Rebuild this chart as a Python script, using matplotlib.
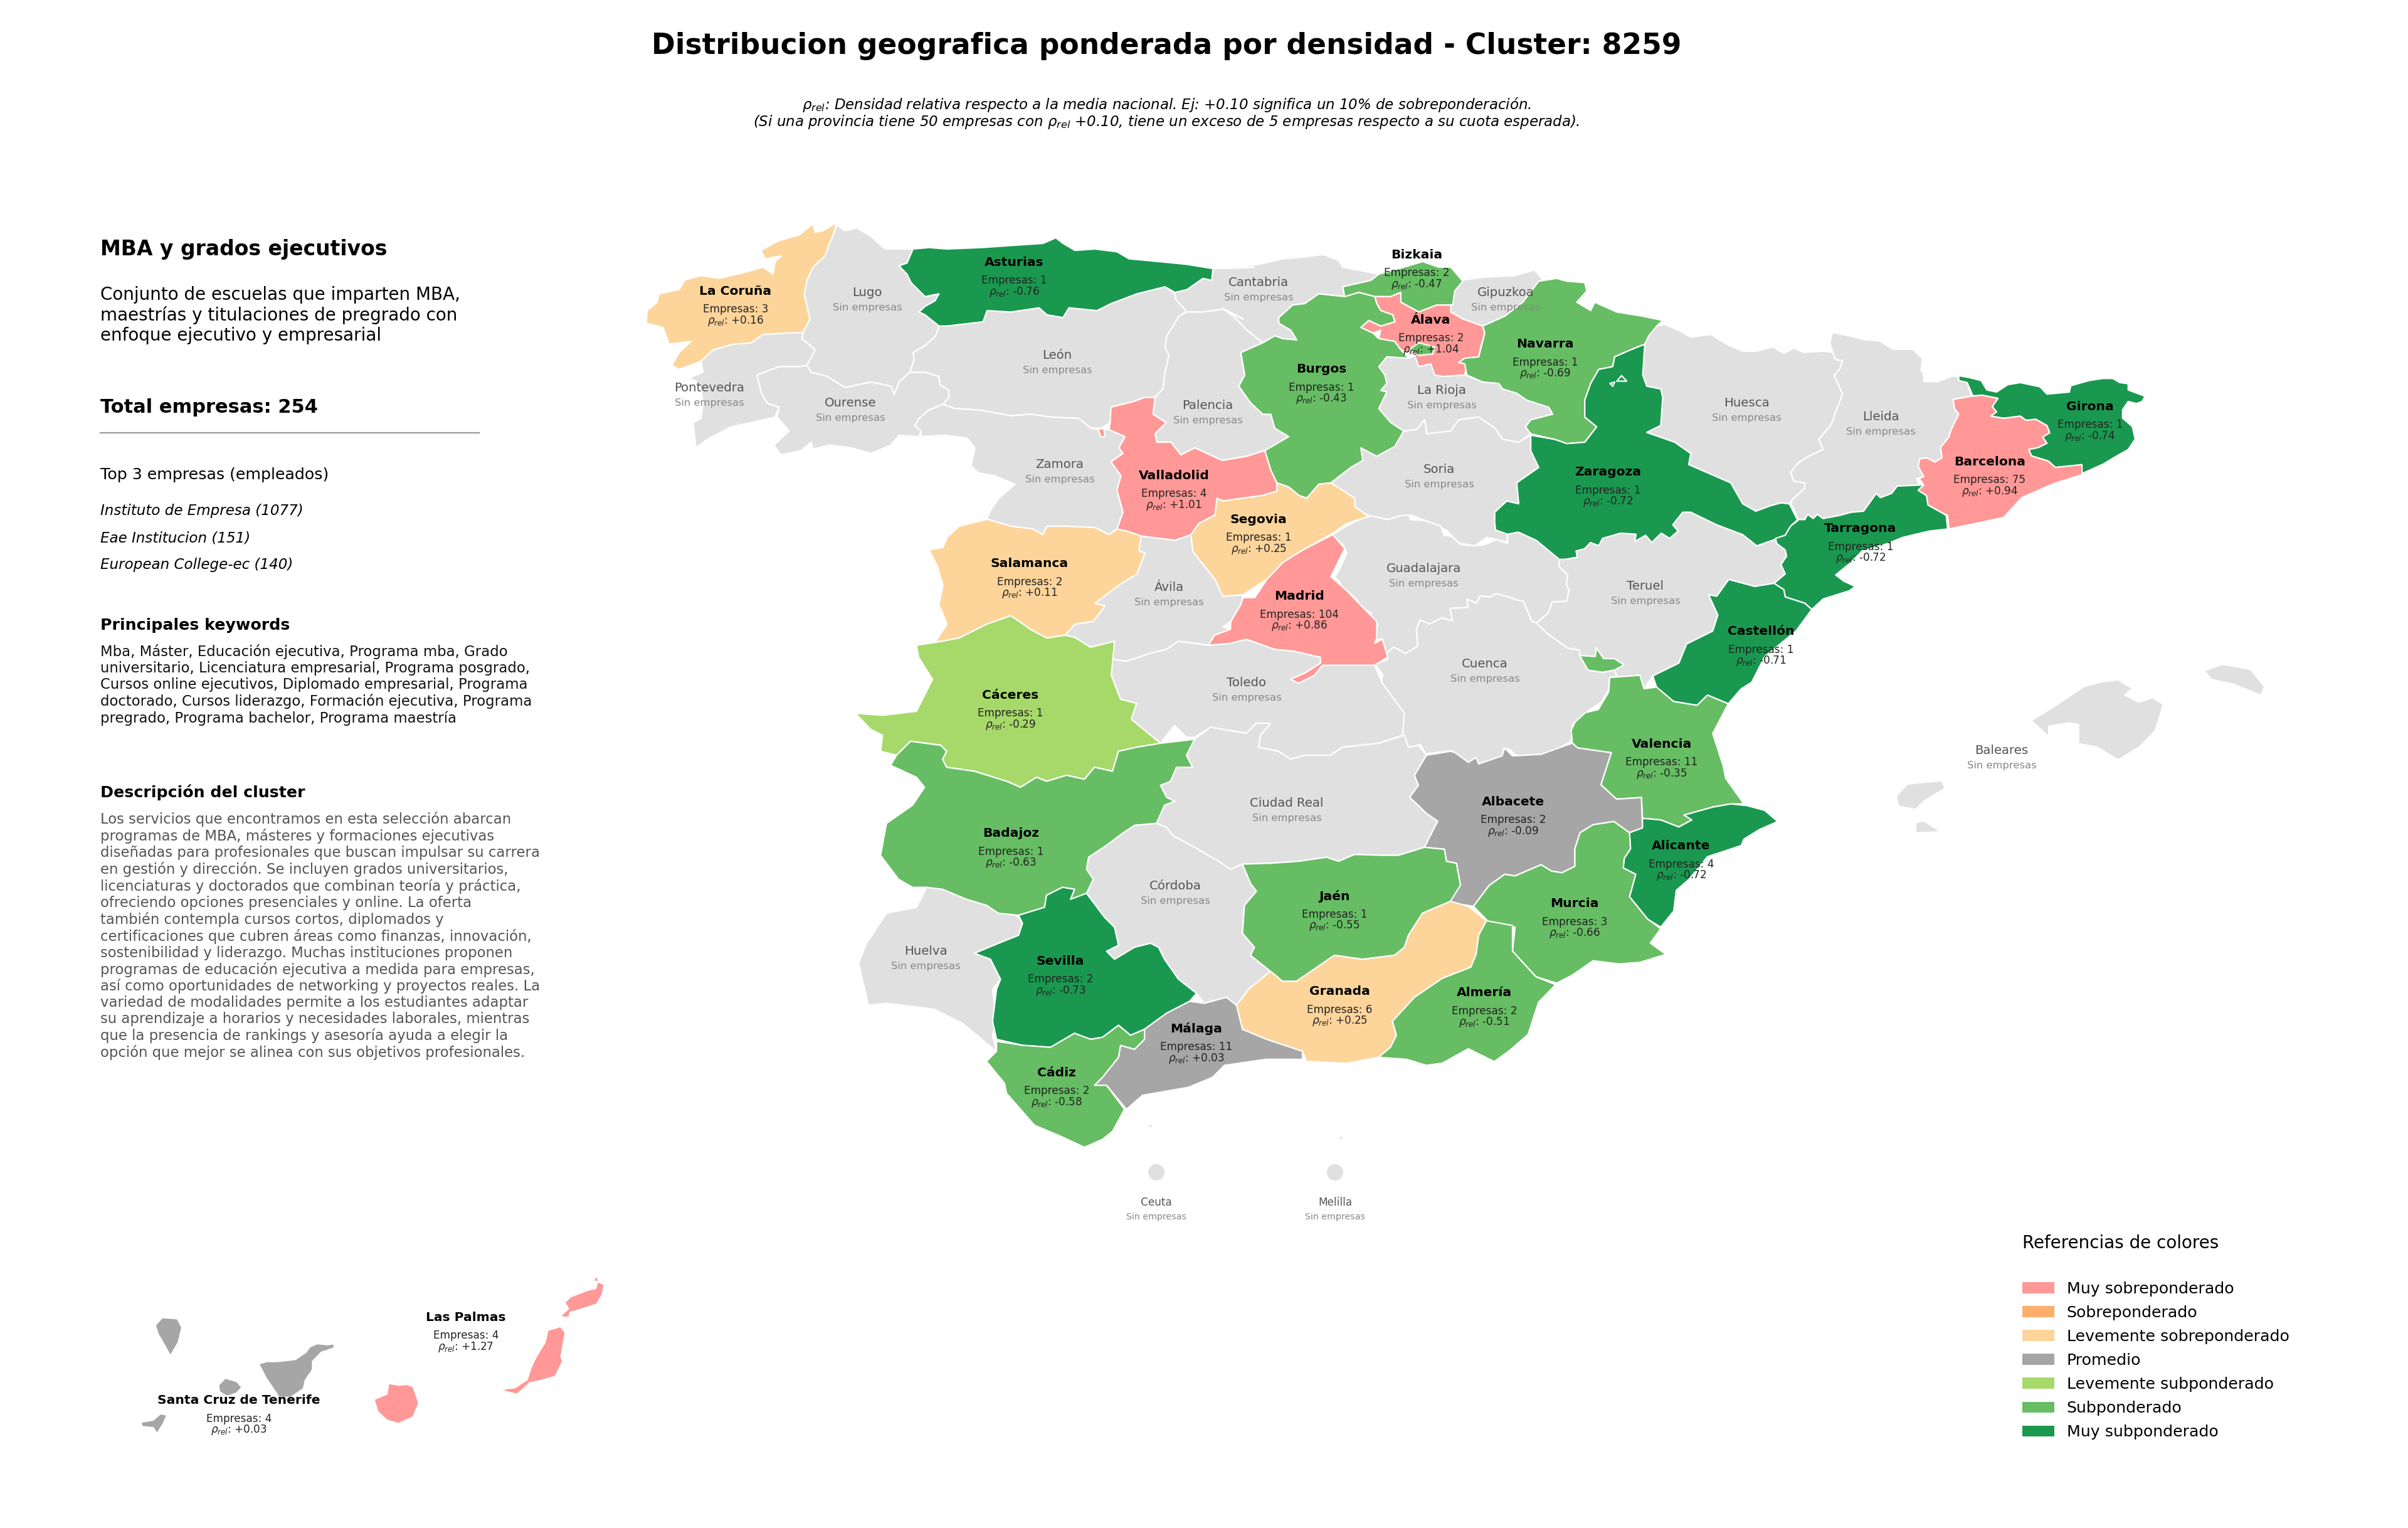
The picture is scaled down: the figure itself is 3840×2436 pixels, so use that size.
"""Distribucion geografica por provincia, cluster 8259 (outlines traced by hand from crops)."""
import matplotlib
matplotlib.use("Agg")
import matplotlib.pyplot as plt
from matplotlib.patches import Patch, Polygon, Circle


def crop(ox, oy, sx, sy):
    """Trace coordinates of one crop -> figure pixels."""
    return lambda pts: [(ox + x / sx, oy + y / sy) for x, y in pts]


A = crop(1000, 330, 1.568, 2.24)
B = crop(1950, 330, 1.568, 2.24)
C = crop(1350, 1000, 1.568, 1.568)
D = crop(2300, 950, 1.206, 1.96)
E = crop(150, 2000, 1.742, 3.0)
F = crop(2800, 500, 2.24, 3.0)
G = crop(2100, 820, 2.613, 3.0)

# --- values ---------------------------------------------------------------
PROVINCES = ["La Coruña", "Asturias", "Bizkaia", "Álava", "Navarra", "Burgos", "Valladolid", "Segovia",
             "Salamanca", "Madrid", "Zaragoza", "Tarragona", "Barcelona", "Girona", "Castellón", "Cáceres",
             "Badajoz", "Valencia", "Albacete", "Alicante", "Murcia", "Jaén", "Sevilla", "Granada",
             "Almería", "Málaga", "Cádiz", "Las Palmas", "Santa Cruz de Tenerife"]
EMPRESAS = [3, 1, 2, 2, 1, 1, 4, 1, 2, 104, 1, 1, 75, 1, 1, 1, 1, 11, 2, 4, 3, 1, 2, 6, 2, 11, 2, 4, 4]
RHO = [0.16, -0.76, -0.47, 1.04, -0.69, -0.43, 1.01, 0.25, 0.11, 0.86, -0.72, -0.72, 0.94, -0.74, -0.71,
       -0.29, -0.63, -0.35, -0.09, -0.72, -0.66, -0.55, -0.73, 0.25, -0.51, 0.03, -0.58, 1.27, 0.03]
EMPTY_PROVINCES = ["Lugo", "Pontevedra", "Ourense", "León", "Cantabria", "Gipuzkoa", "Palencia", "Zamora",
                   "Ávila", "Soria", "La Rioja", "Huesca", "Lleida", "Guadalajara", "Teruel", "Cuenca",
                   "Toledo", "Ciudad Real", "Córdoba", "Huelva", "Baleares"]
LEGEND_LABELS = ["Muy sobreponderado", "Sobreponderado", "Levemente sobreponderado", "Promedio",
                 "Levemente subponderado", "Subponderado", "Muy subponderado"]
LEGEND_COLORS = ["#FF9896", "#FDAE6B", "#FDD49A", "#A6A6A6", "#A6D96A", "#66BD63", "#1A9850"]
NO_DATA = "#E0E0E0"

TOP_EMPRESAS = ["Instituto de Empresa (1077)", "Eae Institucion (151)", "European College-ec (140)"]
KEYWORDS = ("Mba, Máster, Educación ejecutiva, Programa mba, Grado\n"
            "universitario, Licenciatura empresarial, Programa posgrado,\n"
            "Cursos online ejecutivos, Diplomado empresarial, Programa\n"
            "doctorado, Cursos liderazgo, Formación ejecutiva, Programa\n"
            "pregrado, Programa bachelor, Programa maestría")
DESCRIPTION = ("Los servicios que encontramos en esta selección abarcan\n"
               "programas de MBA, másteres y formaciones ejecutivas\n"
               "diseñadas para profesionales que buscan impulsar su carrera\n"
               "en gestión y dirección. Se incluyen grados universitarios,\n"
               "licenciaturas y doctorados que combinan teoría y práctica,\n"
               "ofreciendo opciones presenciales y online. La oferta\n"
               "también contempla cursos cortos, diplomados y\n"
               "certificaciones que cubren áreas como finanzas, innovación,\n"
               "sostenibilidad y liderazgo. Muchas instituciones proponen\n"
               "programas de educación ejecutiva a medida para empresas,\n"
               "así como oportunidades de networking y proyectos reales. La\n"
               "variedad de modalidades permite a los estudiantes adaptar\n"
               "su aprendizaje a horarios y necesidades laborales, mientras\n"
               "que la presencia de rankings y asesoría ayuda a elegir la\n"
               "opción que mejor se alinea con sus objetivos profesionales.")

# --- label anchors (figure pixels, centre of the province name) ------------
LABEL_POS = {
    "La Coruña": (1173, 464), "Lugo": (1383, 467), "Asturias": (1617, 418), "León": (1686, 567),
    "Pontevedra": (1131, 619), "Ourense": (1356, 643), "Palencia": (1926, 646), "Zamora": (1690, 741),
    "Valladolid": (1872, 758), "Salamanca": (1642, 899), "Ávila": (1864, 937), "Segovia": (2007, 828),
    "Cantabria": (2007, 450), "Bizkaia": (2259, 406), "Gipuzkoa": (2401, 467), "Álava": (2282, 510),
    "Navarra": (2464, 549), "Burgos": (2107, 589), "La Rioja": (2299, 622), "Huesca": (2785, 643),
    "Soria": (2295, 749), "Zaragoza": (2564, 753), "Guadalajara": (2270, 906), "Madrid": (2072, 951),
    "Teruel": (2624, 934), "Castellón": (2808, 1007), "Lleida": (2999, 665), "Barcelona": (3173, 736),
    "Girona": (3333, 648), "Tarragona": (2967, 843), "Toledo": (1988, 1089), "Cáceres": (1611, 1108),
    "Cuenca": (2368, 1059), "Ciudad Real": (2052, 1281), "Badajoz": (1612, 1329), "Córdoba": (1874, 1413),
    "Jaén": (2128, 1429), "Huelva": (1476, 1517), "Sevilla": (1691, 1532), "Granada": (2136, 1581),
    "Málaga": (1908, 1640), "Cádiz": (1685, 1710), "Albacete": (2413, 1278), "Valencia": (2650, 1186),
    "Alicante": (2681, 1349), "Murcia": (2511, 1441), "Almería": (2367, 1583), "Baleares": (3192, 1196),
    "Las Palmas": (743, 2100), "Santa Cruz de Tenerife": (381, 2233),
}
CITY_POS = {"Ceuta": (1844, 1869), "Melilla": (2129, 1869)}

# --- outlines, empty provinces first so the coloured ones sit on top --------
SHAPES = {
    "Lugo": [A([(525,65),(545,85),(575,75),(610,105),(645,150),(715,150),(700,200),(680,210),(700,240),(710,270),
                (745,320),(780,310),(770,335),(745,355),(730,375),(745,385),(780,425),(772,460),(745,495),(715,520),
                (718,545),(707,590),(680,625),(668,670),(660,640),(610,625),(545,645),(500,605),(460,590),(450,565),
                (470,510),(437,470),(440,448),(457,400),(443,310),(450,260),(465,215),(495,175),(505,135),(515,100)])],
    "Pontevedra": [A([(440,448),(400,450),(340,455),(310,485),(265,490),(215,510),(185,550),(190,590),(155,610),
                      (175,625),(185,655),(190,700),(185,755),(165,770),(172,860),(200,830),(260,785),(310,770),
                      (370,750),(380,715),(350,700),(335,660),(325,600),(380,570),(430,570),(450,565),(470,510),(437,470)])],
    "Ourense": [A([(450,565),(460,590),(500,605),(545,645),(610,625),(660,640),(668,670),(680,625),(707,590),(745,590),
                   (780,605),(782,635),(805,655),(805,680),(790,705),(755,725),(730,755),(720,780),(735,800),(730,820),
                   (680,815),(660,850),(610,880),(560,860),(505,850),(465,865),(460,840),(435,870),(385,885),(367,850),
                   (405,800),(375,750),(380,715),(350,700),(335,660),(325,600),(380,570),(430,570)])],
    "León": [A([(780,425),(890,410),(900,370),(960,375),(1030,360),(1050,385),(1090,395),(1105,360),(1175,370),(1210,345),
                (1275,310),(1345,285),(1370,310),(1372,330),(1400,370),(1380,390),(1350,460),(1345,500),(1355,530),
                (1345,590),(1340,650),(1320,680),(1295,680),(1265,695),(1210,715),(1208,770),(1185,790),(1160,790),
                (1130,755),(1060,750),(1010,740),(960,745),(880,725),(820,720),(790,705),(805,680),(805,655),(782,635),
                (780,605),(745,590),(707,590),(718,545),(715,520),(745,495),(772,460)])],
    "Cantabria": [A([(1465,220),(1568,215)]) + B([(0,220),(90,205),(150,185),(195,180),(250,170),(290,190),(300,215),(390,240),
                    (370,262),(300,285),(305,320),(240,310),(205,345),(175,350),(140,395),(140,415),(170,440),(185,475),
                    (150,470),(130,460),(100,485),(60,440),(30,395),(0,362)])
                  + A([(1540,400),(1490,365),(1440,375),(1400,375),(1372,330),(1370,305),(1400,295),(1440,255),(1462,262)])],
    "Palencia": [A([(1400,375),(1440,375),(1490,365),(1540,400)]) + B([(0,362),(30,395),(60,440),(100,485),(45,520),(55,600),
                    (40,640),(70,700),(100,740),(120,740),(130,790),(165,820),(105,870),(60,890),(0,905)])
                 + A([(1480,900),(1420,860),(1385,885),(1360,840),(1325,840),(1320,810),(1348,770),(1315,740),(1320,680),
                      (1340,650),(1345,590),(1355,530),(1345,500),(1350,460),(1380,390)])],
    "Zamora": [A([(790,705),(820,720),(880,725),(960,745),(1010,740),(1060,750),(1130,755),(1160,790),(1180,795),(1205,795),
                  (1245,820),(1230,860),(1240,880),(1210,910),(1235,960),(1225,1010),(1240,1090),(1225,1150),(1205,1170),
                  (1170,1145),(1100,1140),(1050,1140),(1040,1170),(1015,1150),(960,1140),(900,1115),(910,1080),(930,1040),
                  (970,990),(920,960),(880,950),(860,925),(870,860),(850,825),(795,815),(735,820),(735,800),(720,780),
                  (730,755),(755,725)])],
    "Ávila": [A([(1285,1175),(1370,1190),(1410,1170),(1415,1230),(1470,1330),(1490,1390)]) + B([(50,1385),(50,1395),(45,1420),(20,1480),(0,1500)])
              + C([(960,5),(920,20),(905,45),(830,35),(800,55),(760,65),(700,85),(665,80),(670,35),(610,50),(570,25)])
              + A([(1095,1530),(1120,1490),(1165,1480),(1195,1425),(1170,1415),(1230,1350),(1275,1310),(1295,1235),(1280,1230)])],
    "Gipuzkoa": [B([(570,350),(570,375),(600,400),(650,425),(705,390),(750,340),(790,265),(805,270),(780,225),(730,245),
                    (660,250),(600,260),(580,300)])],
    "La Rioja": [B([(465,540),(480,530),(490,570),(520,560),(530,600),(550,605),(605,600),(650,625),(690,630),(700,650),
                    (735,665),(760,690),(815,715),(825,740),(770,760),(757,785),(770,810),(740,840),(700,830),(680,790),
                    (640,750),(590,760),(570,800),(510,810),(505,760),(485,795),(452,800),(420,770),(390,720),(410,660),
                    (395,655),(410,630),(405,600),(390,570),(410,535)])],
    "Soria": [B([(452,800),(485,795),(505,760),(510,810),(570,800),(590,760),(640,750),(680,790),(700,830),(740,840),(770,815),
                 (770,870),(790,930),(735,985),(740,1060),(710,1050),(680,1090),(680,1130),(710,1165),(712,1196),(660,1180),
                 (630,1210),(590,1200),(560,1155),(515,1125),(470,1100),(415,1115),(365,1105),(330,1070),(330,1040),(270,985),
                 (320,930),(350,905),(345,860),(385,890),(430,855)])],
    "Huesca": [F([(0,180),(60,160),(100,190),(135,165),(170,185),(245,180),(275,185),(285,220),(310,225),(300,265),(280,295),
                  (305,370),(310,385),(285,470),(270,530),(225,600),(240,650),(185,685),(150,715),(125,760),(135,800),(175,810),
                  (175,835),(130,890),(120,910),(90,905),(50,920),(0,945)])
               + B([(1300,1060),(1270,985),(1165,920),(1170,880),(1130,840),(1060,805),(1095,780),(1100,680),(1095,650),(1060,640),
                    (1050,600),(1055,490),(1065,460),(1085,425),(1105,420),(1140,440),(1170,465),(1220,455),(1260,490),(1300,515)])],
    "Lleida": [F([(275,90),(310,100),(390,125),(440,130),(490,170),(560,170),(595,215),(590,270),(600,290),(600,325),(650,325),
                  (700,300),(722,300),(725,320),(755,330),(770,395),(705,410),(710,455),(725,480),(710,520),(695,565),(690,590),
                  (660,640),(665,690),(640,710),(610,690),(585,695),(580,730),(600,780),(575,790),(585,820),(505,825),(485,860),
                  (445,880),(430,860),(385,945),(340,950),(300,965),(240,980),(220,960),(205,980),(185,960),(175,985),(150,985),
                  (135,935),(125,910),(130,890),(175,835),(175,810),(135,800),(125,760),(150,715),(185,685),(240,650),(225,600),
                  (270,530),(285,470),(310,385),(305,370),(280,295),(300,265),(310,225),(285,220),(275,185),(265,145),(270,105)])],
    "Guadalajara": [G([(60,100),(125,55),(215,5),(295,25),(355,5),(385,5),(390,25),(450,30),(515,55),(530,100),(560,105),(600,145),
                       (655,150),(700,145),(750,120),(795,140),(795,95),(840,85),(915,125),(1010,215),(1010,250),(1045,290),(1040,335),
                       (1050,360),(1042,415),(980,420),(965,470),(915,520),(895,510),(860,415),(835,410),(800,395),(745,380),(720,395),
                       (680,390),(665,425),(625,405),(630,445),(555,450),(565,510),(520,495),(470,525),(430,505),(415,550),(420,630),
                       (370,665),(320,635),(290,665),(270,595),(230,610),(255,525),(225,505),(225,470),(180,440),(165,405),(130,370),
                       (95,360),(100,330),(75,300),(100,250),(125,185),(105,140)])],
    "Teruel": [G([(1010,215),(1035,215),(1085,205),(1080,175),(1115,165),(1140,135),(1175,150),(1190,115),(1265,90),(1330,95),(1325,130),
                  (1370,100),(1395,135),(1435,90),(1470,115),(1505,80)])
               + B([(1125,1135),(1150,1090),(1170,1090),(1235,1135),(1300,1170),(1335,1210),(1385,1185)])
               + F([(75,1100),(105,1130),(110,1160),(90,1200),(105,1245),(65,1290)]) + B([(1330,1355),(1265,1330),(1235,1390),(1215,1385)])
               + D([(530,60),(520,110),(470,150),(455,210),(405,250),(388,290),(380,248),(322,255),(335,251)])
               + G([(1240,745),(1280,720),(1240,690),(1195,690),(1165,640),(1160,680),(1095,675),(1095,650),(1045,640),(960,570),(915,520),
                    (965,470),(980,420),(1042,415),(1050,360),(1040,335),(1045,290),(1010,250)])],
    "Cuenca": [G([(295,695),(290,665),(320,635),(370,665),(420,630),(415,550),(430,505),(470,525),(520,495),(565,510),(555,450),(630,445),
                  (625,405),(665,425),(680,390),(720,395),(745,380),(800,395),(835,410),(860,415),(895,510),(915,520),(960,570),(1045,640),
                  (1095,650),(1095,675),(1130,745),(1190,755),(1240,745),(1250,775),(1220,780),(1215,840),(1185,900),(1135,935),(1065,1005),
                  (1060,1085),(935,1165),(825,1150),(805,1125),(775,1120),(790,1160),(680,1195),(655,1165),(640,1195),(565,1130),(455,1145),
                  (430,1100),(385,1120),(355,1065),(360,960),(320,905),(265,825),(275,765),(240,715)])],
    "Toledo": [C([(665,80),(700,85),(760,65),(800,55),(830,35),(905,45),(960,40),(1000,30),(1070,55),(1120,60),(1185,75),(1185,90),(1145,115),
                  (1110,130),(1130,140),(1170,120),(1190,95),(1320,95),(1340,140),(1395,215),(1390,270),(1330,290),(1240,300),(1210,320),(1145,320),
                  (1110,330),(1080,310),(1030,300),(1035,270),(1060,240),(1025,240),(1000,265),(940,255),(910,250),(870,275),(850,275),(820,245),
                  (785,290),(712,230),(725,190),(685,180),(662,120)])],
    "Ciudad Real": [C([(870,280),(910,250),(940,255),(1000,265),(1025,240),(1060,240),(1035,270),(1030,300),(1080,310),(1110,330),(1145,320),
                       (1210,320),(1240,300),(1330,290),(1395,270),(1405,300),(1430,295),(1450,320),(1420,370),(1430,395),(1408,425),(1450,465),
                       (1478,485),(1445,550),(1380,570),(1340,570),(1270,568),(1230,585),(1200,575),(1130,585),(1060,590),(990,592),(960,605),
                       (930,585),(870,550),(815,520),(800,500),(775,490),(795,445),(820,435),(800,425),(785,395),(810,385),(825,350),(865,350),(850,320)])],
    "Córdoba": [C([(775,490),(800,500),(815,520),(870,550),(930,585),(960,605),(990,592),(1010,640),(1025,660),(995,695),(990,765),(1020,800),
                   (1010,820),(1060,860),(1005,905),(975,945),(950,925),(895,940),(875,915),(830,880),(795,830),(780,800),(760,790),(720,800),
                   (670,830),(650,810),(680,795),(670,750),(645,725),(600,665),(617,630),(600,605),(605,575),(650,545),(690,515),(720,495)])],
    "Huelva": [C([(200,650),(240,655),(300,680),(350,695),(380,715),(425,720),(440,740),(430,770),(380,790),(320,815),(360,830),(385,880),(365,905),
                  (375,985),(365,1020),(375,1060),(350,1040),(290,990),(220,955),(100,940),(55,945),(30,840),(50,790),(100,715),(175,700)])],
    "Baleares": [D([(1135,390),(1180,345),(1235,285),(1270,270),(1300,265),(1325,290),(1310,310),(1340,335),(1365,320),(1385,340),(1370,420),
                    (1340,470),(1300,510),(1260,470),(1225,460),(1225,400),(1205,395),(1165,405),(1165,435)]),
                 D([(875,625),(895,590),(925,585),(960,580),(965,600),(925,640),(910,665),(878,655)]),
                 D([(912,710),(925,705),(955,735),(912,738)]),
                 [(3517,1070),(3544,1060),(3588,1068),(3610,1095),(3605,1107),(3563,1090),(3527,1082)]],

    "La Coruña": [A([(525,55),(515,100),(505,135),(495,175),(465,215),(450,260),(443,310),(457,400),(440,448),(400,450),(340,455),(310,485),
                     (265,490),(215,510),(185,550),(130,580),(112,565),(130,520),(160,480),(105,490),(90,430),(48,415),(50,370),(75,340),(80,310),
                     (130,295),(145,260),(185,245),(230,255),(290,235),(340,215),(365,240),(370,195),(385,175),(345,185),(335,155),(380,120),
                     (430,100),(465,60),(470,90),(490,85)])],
    "Asturias": [A([(715,150),(755,145),(800,150),(885,145),(1040,130),(1072,110),(1090,130),(1120,155),(1170,150),(1225,160),(1255,185),(1330,195),
                    (1400,205),(1465,220),(1462,262),(1440,255),(1400,295),(1370,305),(1345,285),(1275,310),(1210,345),(1175,370),(1105,360),(1090,395),
                    (1050,385),(1030,360),(960,375),(900,370),(890,410),(800,425),(780,425),(745,385),(730,375),(745,355),(770,335),(780,310),(745,320),
                    (710,270),(700,240),(680,210),(700,200)])],
    "Bizkaia": [B([(300,285),(370,262),(390,240),(440,220),(500,195),(540,215),(570,215),(600,265),(580,300),(575,350),(535,350),(490,375),(445,340),
                   (445,305),(420,320),(380,320),(340,305),(305,322)])],
    "Álava": [B([(380,320),(420,320),(445,305),(445,340),(490,375),(535,350),(570,350),(570,375),(600,400),(650,425),(655,450),(645,500),(640,535),
                 (605,540),(590,555),(610,560),(605,600),(550,605),(530,600),(520,560),(490,570),(480,530),(445,510),(430,480),(390,470),(395,440),
                 (375,450),(345,430),(365,405),(395,425),(430,410),(425,385),(395,370),(385,345)])],
    "Navarra": [B([(790,265),(835,255),(860,265),(905,270),(910,300),(885,340),(920,370),(930,340),(985,375),(1050,390),(1100,405),(1085,425),(1065,460),
                   (1055,490),(1020,510),(980,535),(975,570),(940,580),(920,630),(905,690),(905,750),(935,785),(905,840),(860,845),(830,830),(770,810),
                   (757,785),(770,760),(825,740),(815,715),(760,690),(735,665),(700,650),(690,630),(650,625),(610,600),(605,560),(590,555),(605,540),
                   (640,535),(655,450),(650,425),(705,390),(750,340)])],
    "Burgos": [B([(240,310),(305,320),(340,305),(380,320),(385,345),(395,370),(425,385),(430,410),(395,425),(365,405),(345,430),(375,450),(390,470),(430,480),
                  (445,510),(465,540),(410,535),(390,570),(405,600),(410,630),(395,655),(410,660),(390,720),(420,770),(452,800),(430,855),(385,890),(345,860),
                  (350,905),(320,930),(270,985),(240,990),(210,1040),(190,1030),(165,1000),(135,985),(120,940),(105,870),(165,820),(130,790),(120,740),(100,740),
                  (70,700),(40,640),(55,600),(45,520),(100,485),(130,460),(150,470),(185,475),(170,440),(140,415),(140,395),(175,350),(205,345)]),
               B([(465,510),(490,485),(530,500),(525,525),(490,530)])],
    "Valladolid": [A([(1295,680),(1320,680),(1315,740),(1348,770),(1320,810),(1325,840),(1360,840),(1385,885),(1420,860),(1480,900)])
                   + B([(0,905),(60,890),(105,870),(120,940),(135,985),(135,1015),(100,1030),(0,1050)])
                   + A([(1475,1040),(1470,1100),(1430,1130),(1410,1170),(1370,1190),(1285,1175),(1255,1160),(1225,1150),(1240,1090),(1225,1010),(1235,960),
                        (1210,910),(1240,880),(1230,860),(1245,820),(1205,795),(1208,770),(1210,715),(1265,695)]),
                   A([(1178,795),(1192,790),(1195,820),(1185,822)])],
    "Segovia": [B([(135,985),(165,1000),(190,1030),(210,1040),(240,990),(270,985),(330,1040),(330,1070),(365,1105),(310,1130),(275,1165),(200,1225),(150,1270),
                   (110,1330),(50,1385),(0,1390)])
                + A([(1470,1330),(1415,1230),(1410,1170),(1430,1130),(1470,1100),(1475,1040)]) + B([(0,1050),(100,1030),(135,1015)])],
    "Salamanca": [A([(900,1115),(960,1140),(1015,1150),(1040,1170),(1050,1140),(1100,1140),(1170,1145),(1205,1170),(1225,1150),(1255,1160),(1285,1175),(1280,1230),
                     (1295,1235),(1275,1310),(1230,1350),(1170,1415),(1195,1425),(1165,1480),(1120,1490),(1095,1530),(1050,1540),(1010,1510),(960,1460),(900,1490),
                     (830,1540),(770,1555),(800,1490),(780,1420),(790,1350),(775,1280),(755,1225),(790,1215),(800,1180),(830,1140)])],
    "Madrid": [B([(275,1170),(305,1220),(270,1320),(310,1370),(340,1415),(385,1480),(385,1540)])
               + C([(1320,40),(1340,30),(1353,75),(1320,95),(1190,95),(1170,120),(1130,140),(1110,130),(1145,115),(1185,90),(1185,75),(1120,60),(1070,55),(1000,30),
                    (960,40),(905,45),(920,20),(960,5)])
               + B([(20,1480),(45,1420),(50,1395),(80,1395),(110,1330),(150,1270),(200,1225)])],
    "Zaragoza": [B([(770,815),(830,830),(860,845),(905,840),(935,785),(905,750),(905,690),(920,630),(940,580),(975,570),(980,535),(1020,510),(1055,490),(1050,600),
                    (1060,640),(1095,650),(1100,680),(1095,780),(1060,805),(1130,840),(1170,880),(1165,920),(1270,985),(1300,1060)])
                 + F([(0,945),(50,920),(90,905),(120,910),(135,935),(150,985),(125,1015),(105,1060),(75,1075)])
                 + B([(1385,1185),(1335,1210),(1300,1170),(1235,1135),(1170,1090),(1150,1090),(1125,1135)])
                 + G([(1505,80),(1470,115),(1435,90),(1395,135),(1370,100),(1325,130),(1330,95),(1265,90),(1190,115),(1175,150),(1140,135),(1115,165),(1080,175),(1085,205),
                      (1035,215),(1010,215),(915,125),(840,85),(795,95),(745,75)])
                 + B([(680,1130),(680,1090),(710,1050),(740,1060),(735,985),(790,930),(770,870)]),
                 B([(985,622),(997,602),(1010,622)]), B([(968,630),(980,625),(975,640)])],
    "Tarragona": [F([(120,910),(135,935),(150,985),(175,985),(185,960),(205,980),(220,960),(240,980),(300,965),(340,950),(385,945),(430,860),(445,880),(485,860),(505,825),
                     (585,820),(600,820),(580,845),(610,870),(615,915),(655,945),(680,965),(685,1030),(620,1040),(525,1070),(470,1100),(380,1135),(340,1190),(285,1250),(315,1280),
                     (355,1305),(335,1325),(240,1365),(200,1415),(175,1385),(105,1355),(100,1320),(65,1290),(105,1245),(90,1200),(110,1160),(105,1130),(75,1100),(70,1075),(105,1060),
                     (125,1015),(150,990)]),
                  F([(245,1390),(280,1382),(270,1392)])],
    "Barcelona": [F([(705,410),(770,395),(810,390),(865,405),(845,445),(860,470),(840,490),(885,500),(945,490),(965,510),(1000,505),(1040,535),(1050,570),(1025,590),(1040,620),
                     (1010,640),(975,650),(985,680),(1045,705),(1070,735),(1165,722),(1165,770),(1060,815),(950,880),(885,975),(690,1030),(685,965),(655,945),(615,915),(610,870),
                     (580,845),(600,820),(585,790),(575,790),(600,780),(580,730),(585,695),(610,690),(640,710),(665,690),(660,640),(690,590),(695,565),(710,520),(725,480),(710,455)])],
    "Girona": [F([(725,297),(760,305),(805,320),(825,365),(860,375),(900,340),(945,330),(1015,350),(1040,385),(1120,375),(1125,345),(1190,320),(1240,310),(1275,310),(1300,330),
                  (1330,335),(1330,365),(1360,380),(1390,395),(1380,420),(1360,430),(1330,420),(1310,460),(1310,500),(1345,540),(1355,600),(1330,650),(1290,680),(1240,720),(1165,765),
                  (1165,722),(1070,735),(1045,705),(985,680),(975,650),(1010,640),(1040,620),(1025,590),(1050,570),(1040,535),(1000,505),(965,510),(945,490),(885,500),(840,490),
                  (860,470),(845,445),(865,405),(810,390),(775,393),(755,330),(725,320)])],
    "Castellón": [F([(65,1290),(100,1320),(105,1355),(175,1385),(200,1415)])
                  + D([(680,110),(620,190),(595,270),(575,290),(550,337),(510,310),(490,342),(445,330),(412,285),(405,250),(455,210),(470,150),(520,110),(530,60)])
                  + B([(1215,1385),(1235,1390),(1265,1330),(1330,1355)])],
    "Cáceres": [C([(175,45),(221,38),(281,27),(351,-8),(411,-29),(461,6),(501,27),(546,20),(570,25),(610,50),(670,35),(662,120),(685,180),(725,190),(712,230),(785,290),(725,300),
                   (680,310),(665,360),(620,350),(595,380),(550,370),(500,385),(475,375),(435,400),(400,385),(320,360),(250,350),(240,330),(250,310),(235,295),(160,285),(125,320),
                   (85,310),(90,270),(60,255),(22,215),(90,220),(175,210),(215,130),(180,75)])],
    "Badajoz": [C([(160,285),(235,295),(250,310),(240,330),(250,350),(320,360),(400,385),(435,400),(475,375),(500,385),(550,370),(595,380),(620,350),(665,360),(680,310),(725,300),
                   (785,290),(870,280),(850,320),(865,350),(825,350),(810,385),(785,395),(800,425),(820,435),(795,445),(775,490),(720,495),(690,515),(650,545),(605,575),(600,605),
                   (617,630),(600,665),(570,680),(560,680),(570,655),(540,650),(500,670),(495,700),(430,720),(380,715),(350,695),(300,680),(240,655),(200,650),(165,650),(130,630),
                   (85,570),(100,490),(165,445),(195,400),(175,375),(110,345),(125,320)])],
    "Valencia": [D([(322,255),(380,248),(388,290),(412,285),(445,330),(490,342),(510,310),(550,337),(520,430),(540,530),(545,570),(580,650),(555,650),(520,660),(465,685),(480,700),
                    (455,722),(420,700),(385,695),(383,630),(335,635),(305,590),(325,490),(260,475),(250,460),(248,420),(255,395),(275,365),(300,355),(320,300)]),
                 G([(1095,675),(1160,680),(1165,640),(1195,690),(1240,690),(1280,720),(1240,745),(1190,755),(1130,745)])],
    "Albacete": [D([(25,490),(50,520),(65,505),(70,525),(115,500),(120,475),(135,500),(190,495),(250,460),(260,475),(325,490),(305,590),(335,635),(383,630),(385,725),(360,740),(330,705),
                    (290,715),(265,740),(255,790),(255,845),(230,865),(210,860),(190,840),(140,875),(120,870),(90,905),(60,970),(0,955)])
                 + C([(1535,645),(1525,590),(1500,585),(1495,555),(1445,550),(1478,485),(1450,465),(1408,425),(1430,395),(1420,370),(1450,320),(1510,310)])],
    "Alicante": [D([(465,685),(520,660),(555,650),(585,655),(620,670),(645,705),(610,730),(580,760),(575,780),(510,815),(475,885),(450,920),(445,985),(420,1035),(395,1010),(360,940),
                    (372,870),(348,850),(350,820),(362,790),(360,740),(385,725),(385,695),(420,700),(455,722),(480,700)])],
    "Murcia": [D([(255,790),(265,740),(290,715),(330,705),(360,740),(362,790),(350,820),(348,850),(372,870),(360,940),(395,1010),(420,1040),(400,1085),(430,1120),(380,1145),(340,1150),
                  (290,1140),(250,1185),(220,1210),(180,1190),(135,1110),(140,1035),(90,1020),(60,970),(90,905),(120,870),(140,875),(190,840),(210,860),(230,865),(255,845)])],
    "Jaén": [C([(990,592),(1060,590),(1130,585),(1200,575),(1230,585),(1270,568),(1340,570),(1380,570),(1445,550),(1495,555),(1500,585),(1525,590),(1535,645),(1510,685),(1440,715),(1405,770),
                (1395,800),(1370,820),(1290,830),(1220,820),(1125,885),(1090,885),(1060,860),(1010,820),(1020,800),(990,765),(995,695),(1025,660),(1010,640)])],
    "Sevilla": [C([(430,720),(495,700),(500,670),(540,650),(570,655),(560,680),(600,665),(645,725),(670,750),(680,795),(650,810),(670,830),(720,800),(760,790),(780,800),(795,830),(830,880),
                   (875,915),(858,935),(800,965),(745,1005),(710,1020),(680,995),(640,1025),(610,1030),(570,1015),(510,1050),(440,1045),(375,1030),(365,985),(375,905),(385,880),(360,830),
                   (320,815),(380,790),(430,770),(440,740)])],
    "Granada": [C([(1005,905),(1060,860),(1090,885),(1125,885),(1220,820),(1290,830),(1370,820),(1395,800),(1405,770),(1440,715),(1510,685)])
                + D([(50,970),(85,1015),(70,1060),(65,1120),(55,1160),(0,1195)])
                + C([(1420,925),(1365,985),(1375,1020),(1360,1050),(1330,1075),(1250,1090),(1150,1085),(1140,1060),(1050,1030),(990,1005),(975,945)])],
    "Almería": [D([(85,1015),(135,1030),(135,1110),(180,1190),(218,1215),(185,1270),(165,1370),(130,1420),(100,1455),(50,1415),(0,1460)])
                + C([(1450,1095),(1400,1080),(1330,1075),(1360,1050),(1375,1020),(1365,985),(1420,925)]) + D([(0,1195),(55,1160),(65,1120),(70,1060)])],
    "Málaga": [C([(745,1005),(800,965),(858,935),(895,940),(950,925),(975,945),(990,1005),(1050,1030),(1140,1060),(1140,1080),(1050,1080),(945,1095),(915,1125),(855,1150),(740,1170),(700,1205),
                  (650,1145),(620,1145),(640,1125),(680,1075),(685,1045),(720,1055),(745,1030)])],
    "Cádiz": [C([(375,1035),(440,1045),(510,1050),(570,1015),(610,1030),(640,1025),(680,995),(710,1020),(745,1005),(745,1030),(720,1055),(685,1045),(680,1075),(640,1125),(620,1145),(650,1145),
                 (695,1205),(665,1260),(640,1280),(595,1300),(530,1270),(470,1245),(400,1165),(395,1140),(350,1085),(375,1060)])],
    "Las Palmas": [E([(780,695),(815,670),(820,620),(845,628),(870,625),(885,635),(900,710),(885,775),(845,805),(815,790),(790,750)]),
                   E([(1135,648),(1170,640),(1205,600),(1215,545),(1230,490),(1255,420),(1262,365),(1295,348),(1307,375),(1295,490),(1300,510),(1280,580),(1240,600),(1210,610),(1175,665)]),
                   E([(1298,295),(1320,260),(1310,230),(1325,205),(1370,175),(1395,165),(1400,135),(1415,145),(1410,190),(1395,235),(1340,265),(1320,275),(1318,298)]),
                   E([(1390,125),(1395,108),(1400,125)])],
    "Santa Cruz de Tenerife": [E([(172,340),(190,305),(230,310),(242,350),(232,420),(212,478),(200,440),(180,380)]),
                               E([(460,525),(480,515),(510,515),(560,505),(590,470),(600,445),(620,430),(650,435),(665,430),(665,445),(630,465),(605,510),(605,550),(585,600),(580,640),(545,680),(515,680),(480,590)]),
                               E([(348,625),(365,595),(395,610),(408,635),(395,660),(370,675),(350,655)]),
                               E([(132,805),(165,795),(185,765),(200,770),(190,810),(175,850),(165,825),(135,820)])],
}
ISLETS = [C([(752,1242),(766,1248),(760,1250)]), C([(1232,1272),(1242,1276),(1236,1281)])]


def rho_color(rho):
    """Class colour for one relative density value."""
    if rho > 0.7:
        return LEGEND_COLORS[0]
    if rho > 0.3:
        return LEGEND_COLORS[1]
    if rho > 0.1:
        return LEGEND_COLORS[2]
    if rho >= -0.1:
        return LEGEND_COLORS[3]
    if rho >= -0.3:
        return LEGEND_COLORS[4]
    if rho >= -0.7:
        return LEGEND_COLORS[5]
    return LEGEND_COLORS[6]


fig = plt.figure(figsize=(19.2, 12.18), dpi=200, facecolor="white")
ax = fig.add_axes([0, 0, 1, 1])
ax.set_xlim(0, 3840)
ax.set_ylim(2436, 0)
ax.axis("off")

# --- map ------------------------------------------------------------------
colors = dict(zip(PROVINCES, [rho_color(r) for r in RHO]))
for name, parts in SHAPES.items():
    edge = "none" if name in ("Las Palmas", "Santa Cruz de Tenerife", "Baleares") else "white"
    for part in parts:
        ax.add_patch(Polygon(part, closed=True, facecolor=colors.get(name, NO_DATA), edgecolor=edge, linewidth=0.8, joinstyle="round"))
for part in ISLETS:
    ax.add_patch(Polygon(part, closed=True, facecolor=NO_DATA, edgecolor="none"))

for name, emp, rho in zip(PROVINCES, EMPRESAS, RHO):
    x, y = LABEL_POS[name]
    ax.text(x, y, name, ha="center", va="center", fontsize=7.3, fontweight="bold", color="black", zorder=5)
    ax.text(x, y + 29, f"Empresas: {emp}", ha="center", va="center", fontsize=6.1, color="#222222", zorder=5)
    ax.text(x, y + 47, f"$\\rho_{{rel}}$: {rho:+.2f}", ha="center", va="center", fontsize=6.1, color="#222222", zorder=5)

for name in EMPTY_PROVINCES:
    x, y = LABEL_POS[name]
    ax.text(x, y, name, ha="center", va="center", fontsize=7.1, color="#555555", zorder=5)
    ax.text(x, y + 24, "Sin empresas", ha="center", va="center", fontsize=5.9, color="#888888", zorder=5)

for name, (x, y) in CITY_POS.items():
    ax.add_patch(Circle((x, y), 13, facecolor=NO_DATA, edgecolor="none"))
    ax.text(x, y + 48, name, ha="center", va="center", fontsize=6.1, color="#555555")
    ax.text(x, y + 71, "Sin empresas", ha="center", va="center", fontsize=5.1, color="#888888")

# --- header ---------------------------------------------------------------
ax.text(1860, 74, "Distribucion geografica ponderada por densidad - Cluster: 8259",
        ha="center", va="center", fontsize=16.4, fontweight="bold")
ax.text(1860, 167, "$\\rho_{rel}$: Densidad relativa respecto a la media nacional. Ej: +0.10 significa un 10% de sobreponderación.",
        ha="center", va="center", fontsize=8.25, style="italic")
ax.text(1860, 195, "(Si una provincia tiene 50 empresas con $\\rho_{rel}$ +0.10, tiene un exceso de 5 empresas respecto a su cuota esperada).",
        ha="center", va="center", fontsize=8.25, style="italic")

# --- left panel -----------------------------------------------------------
ax.text(160, 397, "MBA y grados ejecutivos", va="center", fontsize=11.9, fontweight="bold")
ax.text(160, 456, "Conjunto de escuelas que imparten MBA,\nmaestrías y titulaciones de pregrado con\nenfoque ejecutivo y empresarial",
        va="top", fontsize=10.0, linespacing=1.17)
ax.text(160, 650, "Total empresas: 254", va="center", fontsize=11.0, fontweight="bold")
ax.plot([160, 764], [690, 690], color="#999999", linewidth=0.8)
ax.text(160, 757, "Top 3 empresas (empleados)", va="center", fontsize=9.1)
for name, y in zip(TOP_EMPRESAS, [814, 858, 900]):
    ax.text(160, y, name, va="center", fontsize=8.3, style="italic")
ax.text(160, 997, "Principales keywords", va="center", fontsize=9.1, fontweight="bold")
ax.text(160, 1027, KEYWORDS, va="top", fontsize=8.2, linespacing=1.17, color="#111111")
ax.text(160, 1263, "Descripción del cluster", va="center", fontsize=9.1, fontweight="bold")
ax.text(160, 1294, DESCRIPTION, va="top", fontsize=8.2, linespacing=1.16, color="#555555")

# --- legend ---------------------------------------------------------------
handles = [Patch(facecolor=c, edgecolor="none", label=l) for c, l in zip(LEGEND_COLORS, LEGEND_LABELS)]
ax.legend(handles=handles, title="Referencias de colores\n", title_fontsize=10, fontsize=9.1, frameon=False,
          loc="upper left", bbox_to_anchor=(3225, 1968), bbox_transform=ax.transData,
          borderaxespad=0, borderpad=0, labelspacing=0.56, alignment="left")

fig.savefig("out.png", dpi=200, facecolor="white")
